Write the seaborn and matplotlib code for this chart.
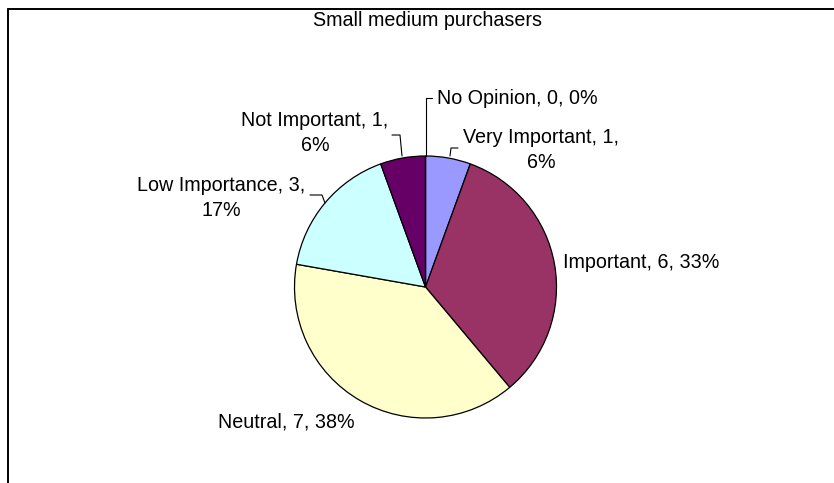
import seaborn as sns
import matplotlib.pyplot as plt
from matplotlib.lines import Line2D

# data
categories = ["Very Important", "Important", "Neutral", "Low Importance",
              "Not Important", "No Opinion"]
counts = [1, 6, 7, 3, 1, 0]
pct_labels = ["6%", "33%", "38%", "17%", "6%", "0%"]
colors = ["#9999FF", "#993366", "#FFFFCC", "#CCFFFF", "#660066", "#FF8080"]

sns.set_theme(style="white")
plt.rcParams["font.family"] = ["Liberation Sans", "DejaVu Sans"]

W, H = 834, 483
fig = plt.figure(figsize=(W / 100, H / 100), dpi=100)

# pie centre / radius in pixels
cx, cy, r = 425.5, 287, 131
ax = fig.add_axes([(cx - r) / W, (H - cy - r) / H, 2 * r / W, 2 * r / H])
ax.pie(counts, colors=colors, startangle=90, counterclock=False, radius=1,
       wedgeprops=dict(edgecolor="black", linewidth=0.9), frame=False)
ax.set_xlim(-1, 1)
ax.set_ylim(-1, 1)
ax.axis("off")


def d(px, py):
    return (px - cx) / r, (cy - py) / r


# label placement (pixel centre, alignment, break before percent?)
label_pos = {
    "Very Important": (541, 150, "center", True),
    "Important": (563, 262, "left", False),
    "Neutral": (218, 422, "left", False),
    "Low Importance": (221, 198, "center", True),
    "Not Important": (315, 133, "center", True),
    "No Opinion": (437, 99, "left", False),
}
for cat, n, p in zip(categories, counts, pct_labels):
    px, py, ha, brk = label_pos[cat]
    txt = f"{cat}, {n},\n{p}" if brk else f"{cat}, {n}, {p}"
    x, y = d(px, py)
    ax.text(x, y, txt, ha=ha, va="center", fontsize=14.2, color="black",
            multialignment="center", linespacing=1.35, clip_on=False)

# leader lines
leaders = [
    [(425.5, 156), (425.5, 98), (432, 98)],
    [(450, 156), (451, 148), (458, 148)],
    [(402, 156), (400, 135), (392, 135)],
    [(325, 203), (322, 195), (310, 195)],
]
for pts in leaders:
    xs, ys = zip(*[d(*p) for p in pts])
    ax.plot(xs, ys, color="black", linewidth=0.8, clip_on=False)

fig.text(427 / W, 1 - 20 / H, "Small medium purchasers", ha="center",
         va="center", fontsize=14.2, color="black")

# chart frame (top and left edges visible)
fy = 1 - 9 / H
fx = 8 / W
fig.add_artist(Line2D([fx, 1], [fy, fy], color="black", linewidth=1.4,
                      transform=fig.transFigure))
fig.add_artist(Line2D([fx, fx], [0, fy], color="black", linewidth=1.4,
                      transform=fig.transFigure))

fig.savefig("out.png", dpi=100)
